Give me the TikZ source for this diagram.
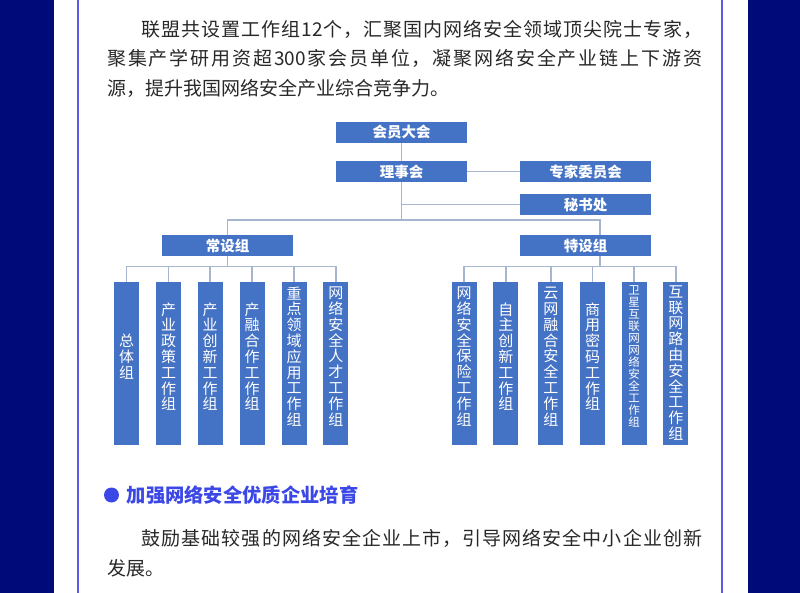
\documentclass[tikz,border=0pt]{standalone}
\usepackage{fontspec}
\setmainfont{Noto Sans CJK SC}
\definecolor{navyband}{RGB}{0,10,120}
\definecolor{framec}{RGB}{90,90,230}
\definecolor{boxc}{RGB}{68,114,196}
\definecolor{linkc}{RGB}{166,182,206}
\definecolor{headc}{RGB}{60,72,230}
\definecolor{textc}{RGB}{40,40,40}
% spread the characters of one line over a given width
\def\spreadend{\relax}
\def\spreadstop{\spreadend}
\newcommand\spreadfirst[1]{#1\spreadrest}
\newcommand\spreadrest[1]{\def\spreadtmp{#1}\ifx\spreadtmp\spreadstop\else\hfill#1\expandafter\spreadrest\fi}
\newcommand\justline[2]{\hbox to #1{\spreadfirst#2\spreadend}}
\begin{document}
\begin{tikzpicture}[x=1pt,y=-1pt,
    txt/.style={anchor=base west,inner sep=0pt,text=textc,font=\fontsize{19pt}{29.5pt}\selectfont},
    topbox/.style={fill=boxc,text=white,minimum width=131pt,minimum height=21pt,inner sep=0pt,font=\fontsize{14.5pt}{16pt}\selectfont\bfseries},
    grpbox/.style={fill=boxc,text=white,minimum width=25pt,minimum height=163pt,inner sep=0pt,align=center,text depth=14.8pt,font=\fontsize{15pt}{15.8pt}\selectfont},
    link/.style={draw=linkc,line width=1.5pt}]
  \useasboundingbox (0,0) rectangle (800,593);
  \fill[navyband] (0,0) rectangle (54,593);
  \fill[navyband] (748,0) rectangle (800,593);
  \draw[framec,line width=2pt] (78,0) -- (78,593);
  \draw[framec,line width=2pt] (722,0) -- (722,593);

  \node[txt] (p1a) at (141.5,36.7) {\justline{560.5pt}{联盟共设置工作组{12}个，汇聚国内网络安全领域顶尖院士专家，}};
  \node[txt] (p1b) at (107,65.7) {\justline{595pt}{聚集产学研用资超{300}家会员单位，凝聚网络安全产业链上下游资}};
  \node[txt] (p1c) at (107,95.7) {源，提升我国网络安全产业综合竞争力。};

  % top of the chart
  \node[topbox] (hy) at (401.5,132.5) {会员大会};
  \node[topbox] (lsh) at (401.5,171.5) {理事会};
  \node[topbox] (zj) at (585.5,171.5) {专家委员会};
  \node[topbox] (msc) at (585.5,204.5) {秘书处};
  \node[topbox] (csz) at (227.5,245.5) {常设组};
  \node[topbox] (tsz) at (585.5,245.5) {特设组};
  \coordinate (lsj) at (401.5,220);
  \coordinate (tsj) at (600,220);
  \coordinate (csb) at (227.5,266.5);
  \coordinate (tsb) at (600,266.5);
  \draw[link] (hy) -- (lsh);
  \draw[link] (lsh) -- (zj);
  \draw[link] (lsh.south) -- (lsj);
  \draw[link] (lsh.south |- msc.west) -- (msc.west);
  \draw[link] (csz.north) |- (tsj) -- (tsj |- tsz.north);
  \draw[link] (csz.south) -- (csb);
  \draw[link] (tsj |- tsz.south) -- (tsb);

  % standing groups
  \node[grpbox] (c1) at (126.7,363.5) {总\\体\\组};
  \node[grpbox] (c2) at (168.5,363.5) {产\\业\\政\\策\\工\\作\\组};
  \node[grpbox] (c3) at (210.2,363.5) {产\\业\\创\\新\\工\\作\\组};
  \node[grpbox] (c4) at (252.2,363.5) {产\\融\\合\\作\\工\\作\\组};
  \node[grpbox] (c5) at (294.2,363.5) {重\\点\\领\\域\\应\\用\\工\\作\\组};
  \node[grpbox] (c6) at (335.8,363.5) {网\\络\\安\\全\\人\\才\\工\\作\\组};
  \draw[link] (c1.north) |- (csb);
  \draw[link] (c2.north) |- (csb);
  \draw[link] (c3.north) |- (csb);
  \draw[link] (c4.north) |- (csb);
  \draw[link] (c5.north) |- (csb);
  \draw[link] (c6.north) |- (csb);

  % special groups
  \node[grpbox] (t1) at (464.2,363.5) {网\\络\\安\\全\\保\\险\\工\\作\\组};
  \node[grpbox] (t2) at (505.8,363.5) {自\\主\\创\\新\\工\\作\\组};
  \node[grpbox] (t3) at (550.8,363.5) {云\\网\\融\\合\\安\\全\\工\\作\\组};
  \node[grpbox] (t4) at (592.5,363.5) {商\\用\\密\\码\\工\\作\\组};
  \node[grpbox,font=\fontsize{11.5pt}{12pt}\selectfont] (t5) at (634.2,363.5) {卫\\星\\互\\联\\网\\网\\络\\安\\全\\工\\作\\组};
  \node[grpbox,text depth=1.8pt] (t6) at (675.8,363.5) {互\\联\\网\\路\\由\\安\\全\\工\\作\\组};
  \draw[link] (t1.north) |- (tsb);
  \draw[link] (t2.north) |- (tsb);
  \draw[link] (t3.north) |- (tsb);
  \draw[link] (t4.north) |- (tsb);
  \draw[link] (t5.north) |- (tsb);
  \draw[link] (t6.north) |- (tsb);

  \fill[headc] (111.5,495) circle (7.5);
  \node[txt,text=headc,font=\fontsize{19.3pt}{24pt}\selectfont\bfseries] (hd) at (126.5,502.3) {加强网络安全优质企业培育};
  \node[txt] (p2a) at (141.5,545) {\justline{560.5pt}{鼓励基础较强的网络安全企业上市，引导网络安全中小企业创新}};
  \node[txt] (p2b) at (107,575.5) {发展。};
\end{tikzpicture}
\end{document}
